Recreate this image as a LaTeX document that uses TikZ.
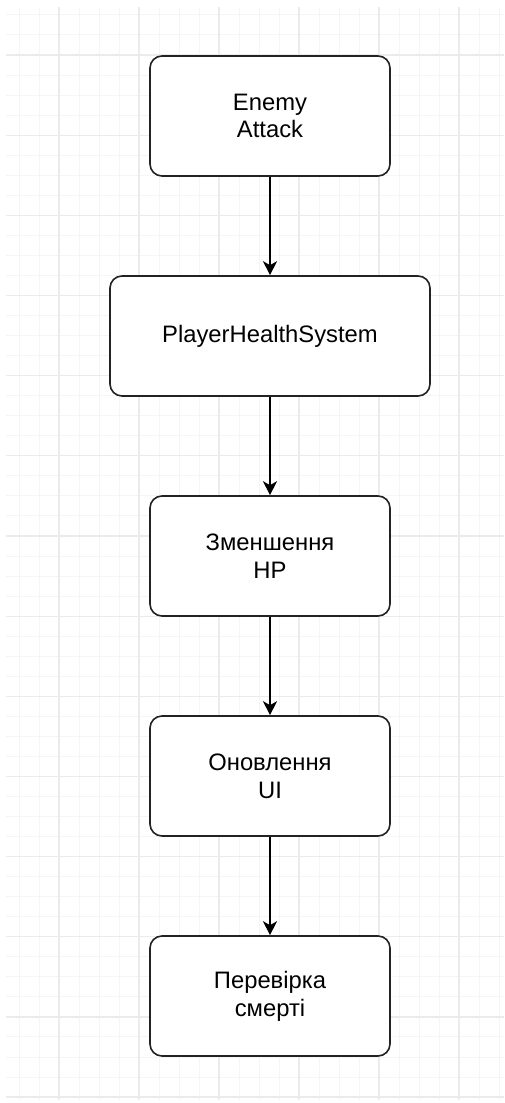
\documentclass[tikz,border=0pt]{standalone}
\usepackage{fontspec}
\setmainfont{Liberation Sans}
\usetikzlibrary{arrows.meta}

\definecolor{gridminor}{HTML}{F5F5F5}
\definecolor{gridmajor}{HTML}{EBEBEB}
\definecolor{inkline}{HTML}{222222}

\tikzset{
  flowbox/.style={rectangle, rounded corners=12pt, draw=inkline, line width=1.6pt,
    fill=white, minimum width=240pt, minimum height=120pt, align=center,
    inner sep=0pt, font=\fontsize{23.8}{27.7}\selectfont},
  widebox/.style={flowbox, minimum width=320pt},
  flowarrow/.style={draw=black, line width=1.6pt,
    -{Stealth[length=14pt, width=14pt, inset=4pt]}},
  minorline/.style={draw=gridminor, line width=1pt},
  majorline/.style={draw=gridmajor, line width=1.2pt}
}

\begin{document}
\begin{tikzpicture}[x=1pt, y=-1pt]
  \useasboundingbox (0,0) rectangle (504,1103);
  \fill[white] (0,0) rectangle (504,1103);

  % background grid: 20pt cells, heavier line every fourth
  \begin{scope}
    \clip (6,7) rectangle (504,1100);
    \foreach \gx in {0,...,24} {
      \draw[minorline] (19+20*\gx,7) -- (19+20*\gx,1100);
    }
    \foreach \gy in {-2,...,52} {
      \draw[minorline] (6,55+20.04*\gy) -- (504,55+20.04*\gy);
    }
    \foreach \gx in {0,...,5} {
      \draw[majorline] (59+80*\gx,7) -- (59+80*\gx,1100);
    }
    \foreach \gy in {0,...,13} {
      \draw[majorline] (6,55+80.16*\gy) -- (504,55+80.16*\gy);
    }
  \end{scope}

  % process chain
  \node[flowbox]  (attack) at (270,116) {Enemy\\Attack};
  \node[widebox]  (health) at (270,336) {PlayerHealthSystem};
  \node[flowbox]  (reduce) at (270,556) {Зменшення\\HP};
  \node[flowbox]  (ui)     at (270,776) {Оновлення\\UI};
  \node[flowbox]  (death)  at (270,996) {Перевірка\\смерті};

  \draw[flowarrow] (attack.south) -- (health.north);
  \draw[flowarrow] (health.south) -- (reduce.north);
  \draw[flowarrow] (reduce.south) -- (ui.north);
  \draw[flowarrow] (ui.south)     -- (death.north);
\end{tikzpicture}
\end{document}
